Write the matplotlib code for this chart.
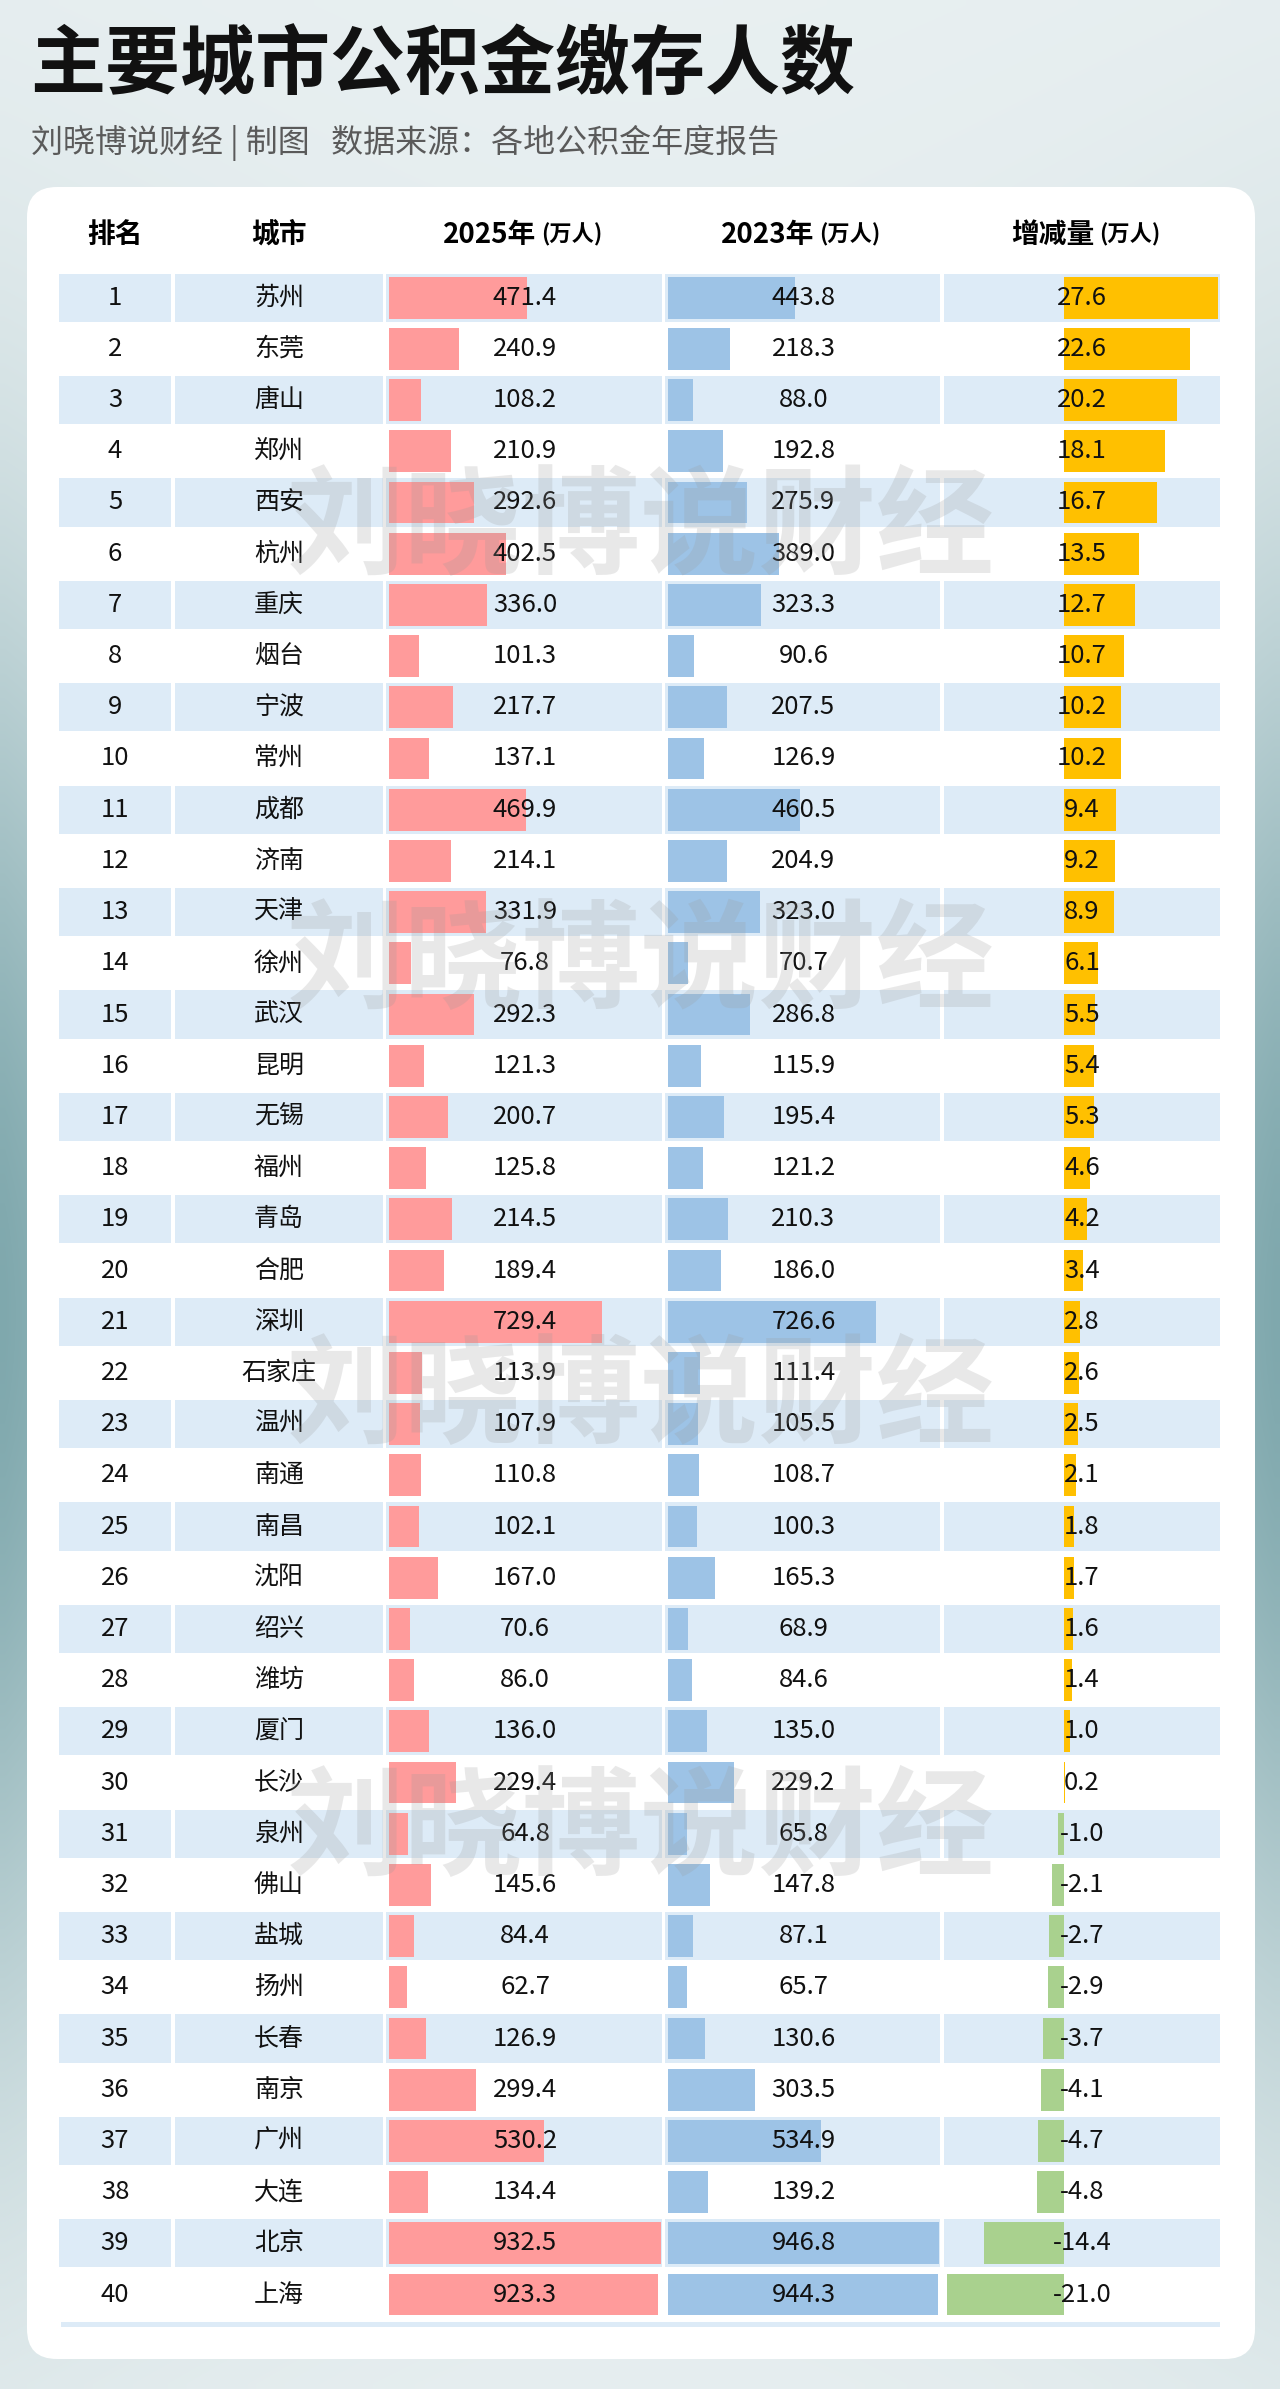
import numpy as np
import matplotlib
matplotlib.use('Agg')
import matplotlib.pyplot as plt
from matplotlib.patches import FancyBboxPatch
from matplotlib.transforms import blended_transform_factory

plt.rcParams['font.family'] = ['Noto Sans CJK SC', 'DejaVu Sans']

# data
cities = ['苏州', '东莞', '唐山', '郑州', '西安', '杭州', '重庆', '烟台', '宁波', '常州',
          '成都', '济南', '天津', '徐州', '武汉', '昆明', '无锡', '福州', '青岛', '合肥',
          '深圳', '石家庄', '温州', '南通', '南昌', '沈阳', '绍兴', '潍坊', '厦门', '长沙',
          '泉州', '佛山', '盐城', '扬州', '长春', '南京', '广州', '大连', '北京', '上海']
v2025 = [471.4, 240.9, 108.2, 210.9, 292.6, 402.5, 336.0, 101.3, 217.7, 137.1,
         469.9, 214.1, 331.9, 76.8, 292.3, 121.3, 200.7, 125.8, 214.5, 189.4,
         729.4, 113.9, 107.9, 110.8, 102.1, 167.0, 70.6, 86.0, 136.0, 229.4,
         64.8, 145.6, 84.4, 62.7, 126.9, 299.4, 530.2, 134.4, 932.5, 923.3]
v2023 = [443.8, 218.3, 88.0, 192.8, 275.9, 389.0, 323.3, 90.6, 207.5, 126.9,
         460.5, 204.9, 323.0, 70.7, 286.8, 115.9, 195.4, 121.2, 210.3, 186.0,
         726.6, 111.4, 105.5, 108.7, 100.3, 165.3, 68.9, 84.6, 135.0, 229.2,
         65.8, 147.8, 87.1, 65.7, 130.6, 303.5, 534.9, 139.2, 946.8, 944.3]
change = [27.6, 22.6, 20.2, 18.1, 16.7, 13.5, 12.7, 10.7, 10.2, 10.2,
          9.4, 9.2, 8.9, 6.1, 5.5, 5.4, 5.3, 4.6, 4.2, 3.4,
          2.8, 2.6, 2.5, 2.1, 1.8, 1.7, 1.6, 1.4, 1.0, 0.2,
          -1.0, -2.1, -2.7, -2.9, -3.7, -4.1, -4.7, -4.8, -14.4, -21.0]
ranks = list(range(1, len(cities) + 1))
headers = ['排名', '城市', '2025年', '2023年', '增减量']
unit = '(万人)'

title = '主要城市公积金缴存人数'
subtitle = '刘晓博说财经 | 制图   数据来源：各地公积金年度报告'
watermark = '刘晓博说财经'

band = '#DDEBF7'
c2025 = '#FF9B9B'
c2023 = '#9DC3E6'
c_up = '#FFC000'
c_down = '#A9D18E'

W, H = 1280, 2389
fig = plt.figure(figsize=(W / 100, H / 100), dpi=100)

# background gradient + card
bg = fig.add_axes([0, 0, 1, 1])
yy, xx = np.mgrid[0:1:240j, 0:1:128j]
w = np.exp(-((yy - 0.55) / 0.3) ** 2) * (0.3 + 0.7 * np.abs(2 * xx - 1) ** 2)
light = np.array([0.915, 0.942, 0.948])
dark = np.array([0.50, 0.66, 0.68])
img = light * (1 - w[..., None]) + dark * w[..., None]
bg.imshow(img, extent=(0, W, H, 0), aspect='auto', interpolation='bilinear')
bg.set_xlim(0, W)
bg.set_ylim(H, 0)
bg.axis('off')
bg.add_patch(FancyBboxPatch((27, 187), 1228, 2172, boxstyle='round,pad=0,rounding_size=30',
                            fc='white', ec='none'))
bg.text(30, 67, title, fontsize=54, fontweight='bold', va='center', ha='left', color='#111111')
bg.text(31, 143, subtitle, fontsize=23, va='center', ha='left', color='#5a5a5a')

# table area
n = len(cities)
pitch = 51.2
y0 = 297.7
top_px = y0 - pitch / 2
bot_px = y0 + pitch * (n - 0.5)
ax_b = 1 - bot_px / H
ax_h = (bot_px - top_px) / H

col_l = [59, 175, 386, 665, 944]
col_r = [171, 383, 662, 940, 1220]
rows = np.arange(n)

tb = fig.add_axes([0, ax_b, 1, ax_h])
tb.set_xlim(0, W)
tb.set_ylim(n - 0.5, -0.5)
tb.axis('off')

odd = rows[::2]
for l, r in zip(col_l, col_r):
    tb.barh(odd, r - l, left=l, height=0.945, color=band, linewidth=0)
# thin line under the last row
tb.barh(n - 1 + 0.58, 1220 - 61, left=61, height=0.1, color=band, linewidth=0, clip_on=False)

hy = (235 - y0) / pitch
for i, h in enumerate(headers):
    cx = (col_l[i] + col_r[i]) / 2
    if i < 2:
        tb.text(cx, hy, h, ha='center', va='center', fontsize=20, fontweight='bold')
    else:
        tb.text(cx + 12, hy, h, ha='right', va='center', fontsize=20, fontweight='bold')
        tb.text(cx + 17, hy, unit, ha='left', va='center', fontsize=16, fontweight='bold')

for i in rows:
    tb.text((col_l[0] + col_r[0]) / 2, i, str(ranks[i]), ha='center', va='center', fontsize=18.5, color='#111111')
    tb.text((col_l[1] + col_r[1]) / 2, i, cities[i], ha='center', va='center', fontsize=18, color='#111111')


def bar_axes(left, right, vals, colors, xlim):
    ax = fig.add_axes([left / W, ax_b, (right - left) / W, ax_h])
    ax.set_ylim(n - 0.5, -0.5)
    ax.set_xlim(*xlim)
    ax.axis('off')
    ax.barh(rows, vals, height=0.82, color=colors, linewidth=0)
    tr = blended_transform_factory(ax.transAxes, ax.transData)
    for i, v in enumerate(vals):
        ax.text(0.5, i, f'{v:.1f}', transform=tr, ha='center', va='center', fontsize=18.5, color='#111111')
    return ax


bar_axes(col_l[2] + 3, col_r[2] - 1, v2025, c2025, (0, max(v2025)))
bar_axes(col_l[3] + 3, col_r[3] - 1, v2023, c2023, (0, max(v2023)))
bar_axes(col_l[4], col_r[4], change, [c_up if v >= 0 else c_down for v in change],
         (min(change) * 1.025, max(change) * 1.013))

# watermark
for yc in [531, 965, 1400, 1832]:
    fig.text(641 / W, 1 - yc / H, watermark, fontsize=85, fontweight='bold', color='#9a9a9a',
             alpha=0.22, ha='center', va='center', zorder=20)

fig.savefig('out.png', dpi=100)
